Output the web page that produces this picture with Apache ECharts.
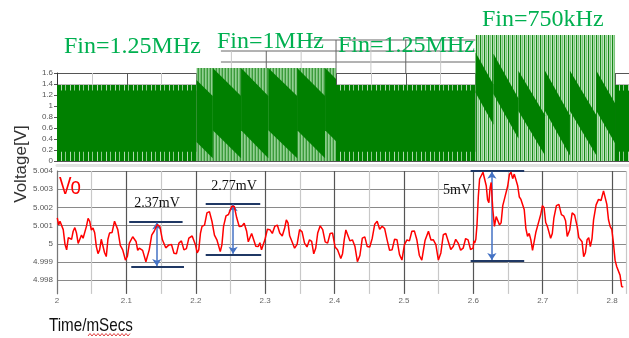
<!DOCTYPE html>
<html><head><meta charset="utf-8">
<script src="https://cdn.jsdelivr.net/npm/echarts/dist/echarts.min.js"></script>
<style>html,body{margin:0;padding:0;background:#fff}#c{width:629px;height:338px}</style>
</head><body><div id="c"></div>
<script>
// ---- Bottom panel: Vo ripple (time in ms, voltage in V)
const timeMs = [2.0004,2.0024,2.0043,2.0067,2.0090,2.0115,2.0139,2.0163,2.0186,2.0210,2.0233,2.0257,2.0281,2.0305,2.0329,2.0353,2.0376,2.0400,2.0424,2.0448,2.0471,2.0495,2.0519,2.0543,2.0567,2.0591,2.0614,2.0638,2.0661,2.0686,2.0710,2.0734,2.0757,2.0793,2.0829,2.0853,2.0876,2.0912,2.0947,2.0967,2.0986,2.1015,2.1043,2.1091,2.1139,2.1163,2.1186,2.1234,2.1281,2.1305,2.1329,2.1365,2.1400,2.1424,2.1447,2.1483,2.1519,2.1567,2.1614,2.1650,2.1686,2.1722,2.1757,2.1793,2.1829,2.1865,2.1900,2.1948,2.1996,2.2020,2.2043,2.2067,2.2090,2.2126,2.2161,2.2197,2.2233,2.2269,2.2304,2.2329,2.2353,2.2377,2.2400,2.2436,2.2471,2.2495,2.2519,2.2555,2.2590,2.2626,2.2661,2.2697,2.2733,2.2757,2.2781,2.2805,2.2829,2.2865,2.2900,2.2924,2.2947,2.2972,2.2996,2.3032,2.3067,2.3103,2.3139,2.3175,2.3210,2.3246,2.3281,2.3305,2.3329,2.3353,2.3376,2.3400,2.3424,2.3460,2.3496,2.3532,2.3567,2.3603,2.3639,2.3670,2.3700,2.3729,2.3757,2.3793,2.3829,2.3865,2.3900,2.3936,2.3971,2.4007,2.4043,2.4067,2.4090,2.4115,2.4139,2.4163,2.4186,2.4222,2.4257,2.4293,2.4329,2.4365,2.4400,2.4436,2.4471,2.4507,2.4543,2.4579,2.4614,2.4650,2.4686,2.4722,2.4757,2.4793,2.4829,2.4865,2.4900,2.4936,2.4971,2.5007,2.5043,2.5079,2.5114,2.5150,2.5186,2.5222,2.5257,2.5305,2.5353,2.5389,2.5424,2.5460,2.5496,2.5532,2.5567,2.5603,2.5639,2.5675,2.5710,2.5746,2.5781,2.5817,2.5853,2.5889,2.5924,2.5960,2.5996,2.6008,2.6019,2.6036,2.6053,2.6072,2.6090,2.6115,2.6139,2.6163,2.6186,2.6205,2.6224,2.6241,2.6257,2.6281,2.6304,2.6329,2.6353,2.6377,2.6400,2.6424,2.6447,2.6472,2.6496,2.6520,2.6543,2.6567,2.6590,2.6615,2.6639,2.6663,2.6686,2.6710,2.6733,2.6757,2.6781,2.6805,2.6829,2.6853,2.6876,2.6900,2.6924,2.6948,2.6971,2.6995,2.7019,2.7043,2.7067,2.7091,2.7114,2.7138,2.7161,2.7197,2.7233,2.7269,2.7304,2.7329,2.7353,2.7389,2.7424,2.7460,2.7496,2.7520,2.7543,2.7567,2.7590,2.7615,2.7639,2.7663,2.7686,2.7710,2.7733,2.7769,2.7804,2.7840,2.7876,2.7900,2.7924,2.7948,2.7971,2.7995,2.8019,2.8043,2.8067,2.8091,2.8114,2.8138,2.8161];
const voV = [5.00143,5.00104,5.00124,5.00131,5.00078,4.99997,4.99967,5.00034,5.00041,5.00025,5.00069,5.00089,5.00059,5.00002,5.00004,5.00048,5.00031,5.00039,5.00096,5.00140,5.00124,5.00076,5.00087,5.00061,4.99985,4.99946,4.99967,5.00025,5.00022,4.99951,4.99930,5.00025,5.00059,5.00062,5.00124,5.00126,5.00078,4.99992,4.99967,4.99969,4.99911,4.99932,5.00004,5.00039,5.00013,4.99964,4.99976,4.99964,4.99902,4.99904,4.99967,5.00048,5.00069,5.00063,5.00106,5.00094,5.00022,4.99978,4.99994,4.99996,4.99948,4.99946,5.00004,5.00016,4.99967,4.99974,5.00031,5.00043,4.99994,4.99950,4.99967,5.00057,5.00096,5.00103,5.00170,5.00177,5.00124,5.00048,5.00022,5.00020,4.99957,4.99996,5.00096,5.00154,5.00161,5.00154,5.00207,5.00205,5.00143,5.00095,5.00096,5.00113,5.00069,5.00011,5.00013,5.00057,5.00050,4.99987,4.99985,5.00006,4.99967,4.99969,5.00022,5.00080,5.00078,5.00057,5.00096,5.00103,5.00059,5.00043,5.00087,5.00131,5.00115,5.00044,5.00022,5.00029,4.99976,4.99997,5.00078,5.00066,5.00004,4.99983,5.00022,5.00014,4.99945,4.99977,5.00059,5.00099,5.00078,5.00011,5.00004,5.00057,5.00059,4.99983,4.99967,4.99973,4.99920,4.99946,5.00022,5.00076,5.00069,5.00016,5.00022,4.99987,4.99902,4.99936,5.00031,5.00038,4.99985,4.99983,5.00031,5.00108,5.00124,5.00080,5.00096,5.00084,5.00022,4.99964,4.99967,5.00025,5.00022,4.99941,4.99911,4.99996,5.00022,5.00016,5.00069,5.00071,5.00022,4.99936,4.99911,5.00020,5.00069,5.00021,5.00022,4.99996,4.99911,4.99950,5.00050,5.00057,5.00013,4.99969,4.99985,5.00025,5.00004,4.99965,4.99976,5.00029,5.00022,4.99969,4.99976,5.00015,5.00004,5.00025,5.00106,5.00261,5.00356,5.00350,5.00393,5.00386,5.00319,5.00243,5.00226,5.00307,5.00337,5.00187,5.00096,5.00150,5.00143,5.00104,5.00115,5.00210,5.00244,5.00252,5.00319,5.00381,5.00393,5.00358,5.00383,5.00381,5.00319,5.00257,5.00244,5.00247,5.00189,5.00085,5.00041,5.00057,5.00022,4.99964,4.99967,5.00062,5.00096,5.00104,5.00161,5.00210,5.00198,5.00117,5.00096,5.00089,5.00031,5.00057,5.00143,5.00210,5.00217,5.00160,5.00152,5.00127,5.00041,5.00076,5.00170,5.00158,5.00096,5.00034,5.00031,5.00011,4.99930,4.99951,5.00022,5.00034,4.99985,5.00029,5.00133,5.00214,5.00244,5.00238,5.00291,5.00284,5.00217,5.00132,5.00096,5.00080,5.00004,4.99909,4.99874,4.99876,4.99828,4.99765,4.99763];

// ---- Top panel: switching-node blocks per input frequency
const segStart = [2.0, 2.2, 2.4, 2.6, 2.8];
const segEnd   = [2.2, 2.4, 2.6, 2.8, 2.82];
const segPeak  = [1.38, 1.69, 1.38, 2.29, 1.38];
const segKind  = ['solid', 'stripeA', 'solid', 'stripeB', 'solid'];
const segLabels = ['Fin=1.25MHz', 'Fin=1MHz', 'Fin=1.25MHz', 'Fin=750kHz'];

// dark aliasing bands (sawtooth) inside the 1MHz and 750kHz blocks
const bandT0 = [2.1829, 2.2233, 2.2639, 2.3029, 2.3443, 2.3843, 2.59, 2.6257, 2.6614, 2.6996, 2.7353, 2.7733];
const bandT1 = [2.2233, 2.2639, 2.3029, 2.3443, 2.3843, 2.4243, 2.6257, 2.6614, 2.6996, 2.7353, 2.7733, 2.81];
const bandU0 = [1.69, 1.69, 1.69, 1.69, 1.69, 1.69, 2.2, 1.95, 1.64, 1.64, 1.64, 1.64];
const bandU1 = [1.18, 1.18, 1.18, 1.18, 1.18, 1.18, 1.39, 1.14, 0.83, 0.83, 0.83, 0.83];
const bandL0 = [0.56, 0.56, 0.56, 0.56, 0.56, 0.56, 1.47, 1.22, 0.91, 0.91, 0.91, 0.91];
const bandL1 = [0.05, 0.05, 0.05, 0.05, 0.05, 0.05, 0.66, 0.41, 0.10, 0.10, 0.10, 0.10];
const bandLo = [2.2, 2.2, 2.2, 2.2, 2.2, 2.2, 2.6, 2.6, 2.6, 2.6, 2.6, 2.6];
const bandHi = [2.4, 2.4, 2.4, 2.4, 2.4, 2.4, 2.8, 2.8, 2.8, 2.8, 2.8, 2.8];

// extra grid pieces above the 1.6 V box (pasted scope grid)
const xgT0 = [2.235, 2.235, 2.36, 2.25, 2.3, 2.35, 2.4, 2.45, 2.5, 2.55];
const xgV0 = [1.8, 2.0, 2.2, 1.69, 1.69, 1.69, 1.6, 1.6, 1.6, 1.6];
const xgT1 = [2.6, 2.6, 2.6, 2.25, 2.3, 2.35, 2.4, 2.45, 2.5, 2.55];
const xgV1 = [1.8, 2.0, 2.2, 2.0, 2.0, 2.0, 2.2, 2.2, 2.2, 2.2];
const xgDark = [1, 1, 1, 0, 1, 0, 1, 0, 1, 0];

// ripple annotations
const annoT0 = [2.104, 2.107, 2.2143, 2.2143, 2.5961, 2.5961];
const annoT1 = [2.181, 2.183, 2.2929, 2.2943, 2.6733, 2.6733];
const annoV  = [5.00121, 4.99874, 5.00222, 4.99941, 5.00399, 4.99907];
const arrowT   = [2.1438, 2.2538, 2.6267];
const arrowTop = [5.00117, 5.00218, 5.00396];
const arrowBot = [4.99878, 4.99945, 4.99911];
const annoText = ['2.37mV', '2.77mV', '5mV'];

function makePattern(cols) {
  const c = document.createElement('canvas');
  c.width = cols.length; c.height = 4;
  const g = c.getContext('2d');
  cols.forEach((col, i) => { g.fillStyle = col; g.fillRect(i, 0, 1, 4); });
  return { image: c, repeat: 'repeat' };
}
const patA = makePattern(['#3c9a3c', '#93cf93', '#6fbd6f']);
const patB = makePattern(['#168a16', '#a9dba9', '#7cc57c', '#c4e6c4']);
const patSpike = makePattern(['#008000', '#008000', '#8cc88c', '#008000', '#008000', '#008000', '#008000', '#b0d8b0', '#008000']);

const chart = echarts.init(document.getElementById('c'), null, { renderer: 'canvas' });

const dark = '#008000';
const mlData = [];
for (let i = 0; i < annoT0.length; i++) {
  mlData.push([{ coord: [annoT0[i], annoV[i]], symbol: 'none', lineStyle: { color: '#1f3864', width: 2, type: 'solid' } },
               { coord: [annoT1[i], annoV[i]], symbol: 'none' }]);
}
for (let i = 0; i < arrowT.length; i++) {
  mlData.push([{ coord: [arrowT[i], arrowTop[i]], symbol: 'arrow', symbolSize: 7, lineStyle: { color: '#4472c4', width: 1.5, type: 'solid' } },
               { coord: [arrowT[i], arrowBot[i]], symbol: 'arrow', symbolSize: 7 }]);
}

const squiggle = [];
for (let x = 88, k = 0; x <= 131; x += 2, k++) squiggle.push([x, k % 2 ? 333.5 : 336]);

const option = {
  animation: false,
  backgroundColor: '#fff',
  grid: [
    { left: 57, top: 73, width: 575, height: 88 },
    { left: 57, top: 171, width: 575, height: 122.9 }
  ],
  xAxis: [
    { gridIndex: 0, type: 'value', min: 2, max: 2.82, interval: 0.05,
      axisLabel: { show: false }, axisTick: { show: false },
      axisLine: { show: true, onZero: false, lineStyle: { color: '#e2e2e2', width: 3 } }, offset: 4,
      splitLine: { show: true, lineStyle: { color: ['#555', '#c8c8c8'], width: 1 } } },
    { gridIndex: 1, type: 'value', min: 2, max: 2.82, interval: 0.05,
      axisLabel: { color: '#666', fontSize: 8, margin: 3, fontFamily: 'Liberation Sans',
        formatter: v => Math.abs(v * 10 - Math.round(v * 10)) < 1e-6 ? String(+v.toFixed(1)) : '' },
      axisTick: { show: false }, axisLine: { show: false },
      splitLine: { show: true, lineStyle: { color: ['#555', '#c8c8c8'], width: 1.2 } } }
  ],
  yAxis: [
    { gridIndex: 0, type: 'value', min: 0, max: 1.6, interval: 0.2,
      axisLabel: { color: '#555', fontSize: 8, margin: 4, fontFamily: 'Liberation Sans', formatter: v => String(+v.toFixed(1)) },
      axisTick: { show: true, length: 3, lineStyle: { color: '#555' } },
      axisLine: { show: true, lineStyle: { color: '#333' } },
      splitLine: { show: true, lineStyle: { color: ['#555', '#bbb'], width: 1 } } },
    { gridIndex: 1, type: 'value', min: 4.99725, max: 5.004, interval: 0.00025,
      axisLabel: { color: '#555', fontSize: 8, margin: 4, fontFamily: 'Liberation Sans',
        formatter: v => { const q = Math.round(v * 4000); return q % 4 === 0 ? String(+v.toFixed(3)) : ''; } },
      axisTick: { show: false },
      axisLine: { show: true, lineStyle: { color: '#777' } },
      splitLine: { show: true, lineStyle: { color: ['rgba(0,0,0,0)', 'rgba(0,0,0,0)', 'rgba(0,0,0,0)', '#8a8a8a'], width: 1.2 } } }
  ],
  series: [
    { type: 'custom', name: 'extraGrid', xAxisIndex: 0, yAxisIndex: 0, clip: false, z: 1, silent: true,
      data: xgT0.map((t, i) => [t, xgV0[i], xgT1[i], xgV1[i], i]),
      renderItem: (params, api) => {
        const i = params.dataIndex;
        const a = api.coord([xgT0[i], xgV0[i]]), b = api.coord([xgT1[i], xgV1[i]]);
        return { type: 'line', shape: { x1: a[0], y1: a[1], x2: b[0], y2: b[1] },
                 style: { stroke: xgDark[i] ? '#666' : '#c8c8c8', lineWidth: 1 } };
      } },
    { type: 'custom', name: 'blocks', xAxisIndex: 0, yAxisIndex: 0, clip: false, z: 3, silent: true,
      data: segStart.map((s, i) => [s, segEnd[i], segPeak[i], i]),
      encode: { x: [0, 1], y: 2 },
      renderItem: (params, api) => {
        const i = params.dataIndex;
        const p0 = api.coord([segStart[i], 0]), p1 = api.coord([segEnd[i], segPeak[i]]);
        const kind = segKind[i];
        const fill = kind === 'solid' ? dark : (kind === 'stripeA' ? patA : patB);
        const children = [{ type: 'rect', shape: { x: p0[0], y: p1[1], width: p1[0] - p0[0], height: p0[1] - p1[1] }, style: { fill } }];
        if (kind === 'solid') {
          const t1 = api.coord([segStart[i], segPeak[i] - 0.1]);
          children.push({ type: 'rect', shape: { x: p0[0], y: p1[1], width: p1[0] - p0[0], height: t1[1] - p1[1] }, style: { fill: patSpike } });
          const b1 = api.coord([segStart[i], 0.17]);
          children.push({ type: 'rect', shape: { x: p0[0], y: b1[1], width: p1[0] - p0[0], height: p0[1] - b1[1] }, style: { fill: patSpike } });
        }
        return { type: 'group', children };
      } },
    { type: 'custom', name: 'bands', xAxisIndex: 0, yAxisIndex: 0, clip: false, z: 4, silent: true,
      data: bandT0.map((t, i) => [t, bandT1[i], bandU0[i], bandL1[i]]),
      encode: { x: [0, 1], y: [2, 3] },
      renderItem: (params, api) => {
        const i = params.dataIndex;
        const t0 = bandT0[i], t1 = bandT1[i];
        const U = t => bandU0[i] + (bandU1[i] - bandU0[i]) * (t - t0) / (t1 - t0);
        const L = t => bandL0[i] + (bandL1[i] - bandL0[i]) * (t - t0) / (t1 - t0);
        const a = Math.max(t0, bandLo[i]), b = Math.min(t1, bandHi[i]);
        if (b <= a) return null;
        const pts = [[a, U(a)], [b, U(b)]];
        const La = L(a), Lb = L(b);
        if (Lb >= 0) pts.push([b, Lb], [a, La]);
        else if (La > 0) { const tz = a + (b - a) * La / (La - Lb); pts.push([b, 0], [tz, 0], [a, La]); }
        else pts.push([b, 0], [a, 0]);
        return { type: 'polygon', shape: { points: pts.map(p => api.coord(p)) }, style: { fill: dark } };
      } },
    { type: 'line', name: 'Vo', xAxisIndex: 1, yAxisIndex: 1, z: 5,
      data: timeMs.map((t, i) => [t, voV[i]]),
      showSymbol: false, symbol: 'none',
      lineStyle: { color: '#ff0000', width: 1.5 },
      markLine: { silent: true, animation: false, label: { show: false }, data: mlData }
    }
  ],
  graphic: [
    { type: 'text', x: 64, y: 46.5, z: 100, style: { text: segLabels[0], fill: '#00b050', font: '24px "Liberation Serif"', verticalAlign: 'middle' } },
    { type: 'text', x: 217, y: 41.5, z: 100, style: { text: segLabels[1], fill: '#00b050', font: '24px "Liberation Serif"', verticalAlign: 'middle' } },
    { type: 'text', x: 338, y: 45.5, z: 100, style: { text: segLabels[2], fill: '#00b050', font: '24px "Liberation Serif"', verticalAlign: 'middle' } },
    { type: 'text', x: 482, y: 19.5, z: 100, style: { text: segLabels[3], fill: '#00b050', font: '24px "Liberation Serif"', verticalAlign: 'middle' } },
    { type: 'text', x: 59, y: 187, scaleX: 0.78, z: 100, style: { text: 'Vo', fill: '#ff0000', font: '24px "Liberation Sans"', verticalAlign: 'middle' } },
    { type: 'text', x: 157, y: 203.5, z: 100, style: { text: annoText[0], fill: '#111', font: '14px "Liberation Serif"', align: 'center', verticalAlign: 'middle' } },
    { type: 'text', x: 234, y: 186.5, z: 100, style: { text: annoText[1], fill: '#111', font: '14px "Liberation Serif"', align: 'center', verticalAlign: 'middle' } },
    { type: 'text', x: 457, y: 190, z: 100, style: { text: annoText[2], fill: '#111', font: '14px "Liberation Serif"', align: 'center', verticalAlign: 'middle' } },
    { type: 'text', x: 21, y: 164, rotation: Math.PI / 2, z: 100, style: { text: 'Voltage[V]', fill: '#333', font: '17px "Liberation Sans"', align: 'center', verticalAlign: 'middle' } },
    { type: 'text', x: 49, y: 326, scaleX: 0.8, z: 100, style: { text: 'Time/mSecs', fill: '#111', font: '19px "Liberation Sans"', verticalAlign: 'middle' } },
    { type: 'polyline', z: 100, shape: { points: squiggle }, style: { stroke: '#e04040', lineWidth: 1, fill: null } }
  ]
};
chart.setOption(option);
</script>
</body></html>
